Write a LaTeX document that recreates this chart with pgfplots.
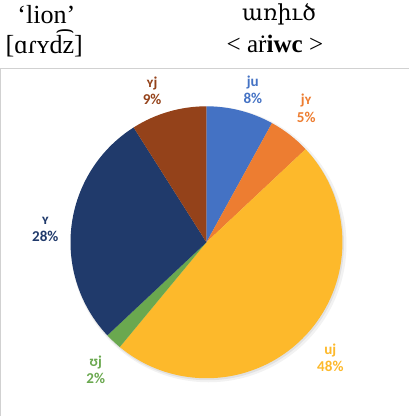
\documentclass[border=0pt]{standalone}
\usepackage{pgfplots}
\pgfplotsset{compat=1.18}
\usepackage{pgfplotstable}
\usepackage{fontspec}
\setmainfont{Liberation Serif}
\newfontfamily\lblfont{Carlito}
\newfontfamily\armfont{DejaVu Serif}

\definecolor{cju}{HTML}{4472C4}
\definecolor{cjy}{HTML}{ED7D31}
\definecolor{cuj}{HTML}{FDB92B}
\definecolor{cvj}{HTML}{6AA84F}
\definecolor{cy}{HTML}{203A6B}
\definecolor{cyj}{HTML}{94421A}

% label, share (%), colour, label position (image px, top-left origin)
\pgfplotstableread{
label value color lx ly
ju 8 cju 257 84
jʏ 5 cjy 310 102
uj 48 cuj 334 350
ʊj 2 cvj 101 362
ʏ 28 cy 51 222
ʏj 9 cyj 157 85
}\piedata

\begin{document}
\begin{tikzpicture}
\begin{axis}[
  scale only axis, width=412bp, height=416bp,
  xmin=0, xmax=412, ymin=0, ymax=416,
  hide axis,
]
% frame
\draw[black!18, line width=1bp] (axis cs:6.5,-5) -- (axis cs:6.5,344.7) -- (axis cs:420,344.7);
% soft shadow
\fill[black, opacity=0.05] (axis cs:213,170.5) circle[radius=137bp];
\fill[black, opacity=0.07] (axis cs:212,171) circle[radius=135.5bp];
\xdef\cum{90}
\pgfplotsforeachungrouped \i in {0,...,5} {
  \pgfplotstablegetelem{\i}{value}\of\piedata \let\val\pgfplotsretval
  \pgfplotstablegetelem{\i}{color}\of\piedata \let\col\pgfplotsretval
  \pgfplotstablegetelem{\i}{label}\of\piedata \let\lab\pgfplotsretval
  \pgfplotstablegetelem{\i}{lx}\of\piedata \let\lx\pgfplotsretval
  \pgfplotstablegetelem{\i}{ly}\of\piedata \let\ly\pgfplotsretval
  \pgfmathsetmacro\endang{\cum-3.6*\val}
  \pgfmathsetmacro\lyy{416-\ly-8.5}
  \edef\cmd{%
    \noexpand\fill[\col] (axis cs:211,172.5) -- ++(\cum:135bp)
      arc[start angle=\cum, end angle=\endang, radius=135bp] -- cycle;
    \noexpand\node[text=\col, align=center, inner sep=0pt,
      font=\noexpand\lblfont\noexpand\bfseries\noexpand\fontsize{15}{17}\noexpand\selectfont]
      at (axis cs:\lx,\lyy) {\lab\noexpand\\\val\noexpand\%};
  }
  \cmd
  \xdef\cum{\endang}
}
% titles
\node[font=\fontsize{26}{28}\selectfont] at (axis cs:52,399) {‘lion’};
\node[font=\fontsize{26}{28}\selectfont] at (axis cs:50,370) {[ɑɾʏd͡z]};
\node[font=\armfont\fontsize{22}{26}\selectfont] at (axis cs:283,399) {առիւծ};
\node[font=\fontsize{25}{28}\selectfont] at (axis cs:279,369) {< aṙ\textbf{iwc} >};
\end{axis}
\end{tikzpicture}
\end{document}
